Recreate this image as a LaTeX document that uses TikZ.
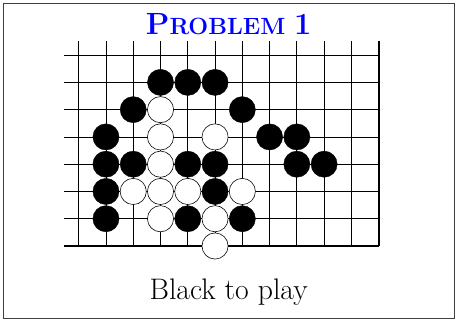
\documentclass[tikz,border=0pt]{standalone}
\usepackage{tikz}
\usetikzlibrary{positioning}

\tikzset{
  blackstone/.style={circle,draw=black,fill=black,minimum size=0.96cm,inner sep=0pt},
  whitestone/.style={circle,draw=black,fill=white,line width=0.6pt,minimum size=0.96cm,inner sep=0pt}
}

\begin{document}
\begin{tikzpicture}
    \useasboundingbox (-2.886,-2.714) rectangle (13.836,9.021);
    % Frame
    \draw[black!75,line width=0.9pt] (-2.776,-2.64) rectangle (13.76,8.91);

    % Grid
    \foreach \i in {0,...,10} \draw[line width=0.8pt] (\i,0) -- (\i,7.5);
    \foreach \j in {1,...,7} \draw[line width=0.8pt] (-0.53,\j) -- (11,\j);
    \draw[line width=2pt] (-0.53,0) -- (11,0);
    \draw[line width=2pt] (11,7.5) -- (11,0);

    % Black stones
    \foreach \c/\r in {3/6,4/6,5/6,2/5,6/5,1/4,7/4,8/4,1/3,2/3,4/3,5/3,8/3,9/3,
                       1/2,5/2,1/1,4/1,6/1}
      \node[blackstone] at (\c,\r) {};

    % White stones
    \foreach \c/\r in {3/5,3/4,5/4,3/3,2/2,3/2,4/2,6/2,3/1,5/1,5/0}
      \node[whitestone] at (\c,\r) {};

    % Labels
    \node[anchor=base,text=blue,font=\bfseries] (title) at (5.5,7.774)
      {\fontsize{32}{36}\selectfont P\fontsize{24.5}{28}\selectfont ROBLEM
       \fontsize{32}{36}\selectfont 1};
    \node[anchor=base] (caption) at (5.5,-1.98)
      {\fontsize{31}{36}\selectfont Black to play};
\end{tikzpicture}
\end{document}
